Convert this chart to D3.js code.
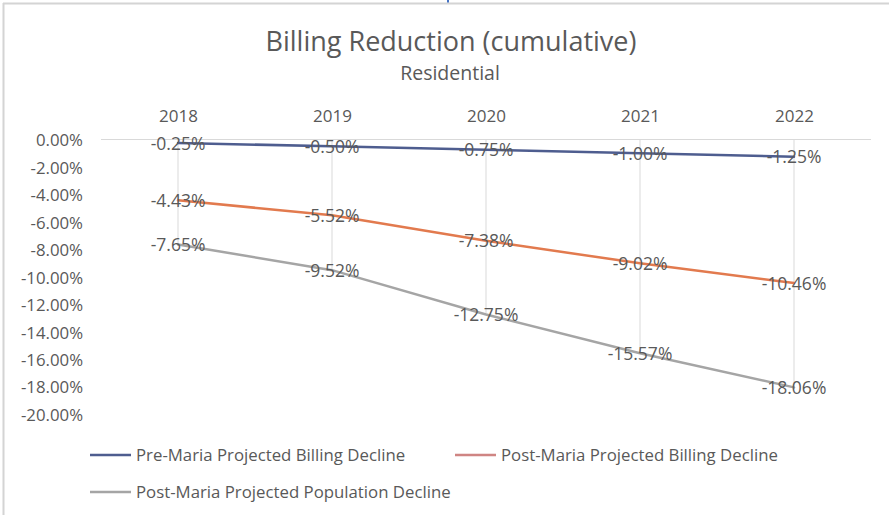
<!DOCTYPE html>
<html>
<head>
<meta charset="utf-8">
<script src="https://cdn.jsdelivr.net/npm/d3@7"></script>
<style>
  body { margin: 0; background: #fff; }
  svg text { font-family: "Open Sans", sans-serif; fill: #595959; }
</style>
</head>
<body>
<div id="chart"></div>
<script>
// chart data
const years = ["2018", "2019", "2020", "2021", "2022"];
const preMariaBilling = [-0.25, -0.50, -0.75, -1.00, -1.25];
const postMariaBilling = [-4.43, -5.52, -7.38, -9.02, -10.46];
const postMariaPopulation = [-7.65, -9.52, -12.75, -15.57, -18.06];
const yTicks = [0, -2, -4, -6, -8, -10, -12, -14, -16, -18, -20];

const seriesNames = [
  "Pre-Maria Projected Billing Decline",
  "Post-Maria Projected Billing Decline",
  "Post-Maria Projected Population Decline",
];
const seriesColors = ["#4e5d8f", "#e27a4e", "#a5a5a5"];
const legendColors = ["#4e5d8f", "#cf8583", "#a5a5a5"];

var W = 889, H = 515;
var plot = { left: 101, right: 871, top: 139.5, bottom: 414 };

var svg = d3.select("#chart").append("svg")
  .attr("width", W)
  .attr("height", H);

// outer frame (top and left edges visible)
svg.append("line")
  .attr("x1", 3).attr("x2", W).attr("y1", 3.5).attr("y2", 3.5)
  .attr("stroke", "#d4d4d4").attr("stroke-width", 2);
svg.append("line")
  .attr("x1", 3.5).attr("x2", 3.5).attr("y1", 3).attr("y2", H)
  .attr("stroke", "#d4d4d4").attr("stroke-width", 2);
svg.append("rect")
  .attr("x", 447).attr("y", 0).attr("width", 2).attr("height", 2.5)
  .attr("fill", "#4472c4");

var x = d3.scalePoint().domain(years).range([plot.left, plot.right]).padding(0.5);
var y = d3.scaleLinear().domain([-20, 0]).range([plot.bottom, plot.top]);

// title
svg.append("text")
  .attr("x", 451).attr("y", 51)
  .attr("text-anchor", "middle")
  .attr("font-size", "27px")
  .text("Billing Reduction (cumulative)");
svg.append("text")
  .attr("x", 450).attr("y", 80)
  .attr("text-anchor", "middle")
  .attr("font-size", "19.5px")
  .text("Residential");

// y axis labels (no line)
var yAxis = d3.axisLeft(y)
  .tickValues(yTicks)
  .tickSize(0)
  .tickPadding(0)
  .tickFormat(function (d) { return d.toFixed(2) + "%"; });
var gy = svg.append("g")
  .attr("transform", "translate(83,1)")
  .call(yAxis);
gy.select(".domain").remove();
gy.selectAll("text")
  .attr("font-size", "16.8px")
  .attr("font-family", null)
  .attr("fill", null);

// category axis sits at zero, labels above
var xAxis = d3.axisTop(x).tickSize(0).tickPadding(18);
var gx = svg.append("g")
  .attr("transform", "translate(0," + y(0) + ")")
  .call(xAxis);
gx.select(".domain")
  .attr("stroke", "#d9d9d9")
  .attr("stroke-width", 1.2)
  .attr("d", "M" + plot.left + ",0H" + plot.right);
gx.selectAll("text")
  .attr("font-size", "17px")
  .attr("font-family", null)
  .attr("fill", null);

// drop lines from the axis to the lowest point
var allSeries = [preMariaBilling, postMariaBilling, postMariaPopulation];
svg.append("g").selectAll("line")
  .data(years)
  .join("line")
  .attr("x1", function (d) { return x(d); })
  .attr("x2", function (d) { return x(d); })
  .attr("y1", y(0))
  .attr("y2", function (d, i) {
    return y(d3.min(allSeries, function (s) { return s[i]; }));
  })
  .attr("stroke", "#d9d9d9")
  .attr("stroke-width", 1);

var line = d3.line()
  .x(function (d, i) { return x(years[i]); })
  .y(function (d) { return y(d); });

svg.append("g").selectAll("path")
  .data(allSeries)
  .join("path")
  .attr("d", line)
  .attr("fill", "none")
  .attr("stroke", function (d, i) { return seriesColors[i]; })
  .attr("stroke-width", 2.5)
  .attr("stroke-linecap", "round");

// data labels centred on the points
allSeries.forEach(function (s) {
  svg.append("g").selectAll("text")
    .data(s)
    .join("text")
    .attr("x", function (d, i) { return x(years[i]); })
    .attr("y", function (d) { return y(d); })
    .attr("dy", "0.38em")
    .attr("text-anchor", "middle")
    .attr("font-size", "17.5px")
    .text(function (d) { return d.toFixed(2) + "%"; });
});

// legend
var legendPos = [[90, 455], [455, 455], [90, 492]];
var legend = svg.append("g").selectAll("g")
  .data(seriesNames)
  .join("g")
  .attr("transform", function (d, i) {
    return "translate(" + legendPos[i][0] + "," + legendPos[i][1] + ")";
  });
legend.append("line")
  .attr("x1", 0).attr("x2", 41)
  .attr("stroke", function (d, i) { return legendColors[i]; })
  .attr("stroke-width", 2.5);
legend.append("text")
  .attr("x", 46)
  .attr("dy", "0.36em")
  .attr("font-size", "16.8px")
  .text(function (d) { return d; });
</script>
</body>
</html>
